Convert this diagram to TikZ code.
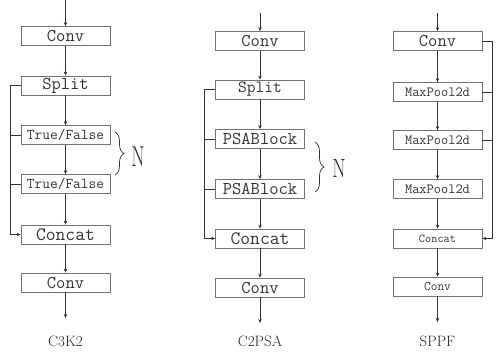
\documentclass[tikz,border=0pt]{standalone}
\usepackage{fontspec}
\usepackage{graphicx}
\usetikzlibrary{arrows.meta,decorations.pathreplacing}
\begin{document}
\begin{tikzpicture}[x=1pt, y=-1pt, >={Stealth[length=4pt,width=3.5pt]},
    blk/.style={draw=black!55, line width=0.8pt, minimum width=89pt, minimum height=19pt,
      inner sep=0pt, text=black!80, font=\ttfamily\fontsize{#1}{#1}\selectfont},
    blk/.default=18,
    flow/.style={->, line width=0.7pt, black!80},
    wire/.style={line width=0.7pt, black!80},
    tag/.style={text=black!85, font=\fontsize{15}{15}\selectfont},
    reps/.style={text=black!85, font=\fontsize{24}{24}\selectfont},
    brc/.style={line width=0.7pt, black!80, decorate, decoration={brace, amplitude=9pt}}]
    \useasboundingbox (0,0) rectangle (498,354);

    % C3K2
    \coordinate (in1) at (65.5,0);
    \coordinate (out1) at (65.5,318);
    \coordinate (bus1) at (10,0);
    \node[blk] (conv1a) at (65.5,36) {Conv};
    \node[blk] (split1) at (65.5,85.5) {Split};
    \node[blk=15] (tf1) at (65.5,135) {True/False};
    \node[blk=15] (tf2) at (65.5,184) {True/False};
    \node[blk=19] (concat1) at (65.5,234.5) {Concat};
    \node[blk] (conv1b) at (65.5,282.5) {Conv};
    \node[tag] (lbl1) at (65.5,341) {C3K2};

    \draw[flow] (in1) -- (conv1a);
    \draw[flow] (conv1a) -- (split1);
    \draw[flow] (split1) -- (tf1);
    \draw[flow] (tf1) -- (tf2);
    \draw[flow] (tf2) -- (concat1);
    \draw[flow] (concat1) -- (conv1b);
    \draw[flow] (conv1b) -- (out1);
    \draw[flow] (split1.west) -- (split1.west -| bus1) |- (concat1.west);
    \draw[wire] (tf1.west) -- (tf1.west -| bus1);
    \draw[wire] (tf2.west) -- (tf2.west -| bus1);

    \draw[brc] (115,132) -- (115,175);
    \node[reps] (n1) at (138,157) {\scalebox{0.8}[1.2]{N}};

    % C2PSA
    \coordinate (in2) at (260,13);
    \coordinate (out2) at (260,323);
    \coordinate (bus2) at (204,0);
    \node[blk] (conv2a) at (260,41) {Conv};
    \node[blk=17] (split2) at (260,89.5) {Split};
    \node[blk] (psa1) at (260,139) {PSABlock};
    \node[blk] (psa2) at (260,189) {PSABlock};
    \node[blk=19] (concat2) at (260,238.5) {Concat};
    \node[blk] (conv2b) at (260,287.5) {Conv};
    \node[tag] (lbl2) at (260,341) {C2PSA};

    \draw[flow] (in2) -- (conv2a);
    \draw[flow] (conv2a) -- (split2);
    \draw[flow] (split2) -- (psa1);
    \draw[flow] (psa1) -- (psa2);
    \draw[flow] (psa2) -- (concat2);
    \draw[flow] (concat2) -- (conv2b);
    \draw[flow] (conv2b) -- (out2);
    \draw[flow] (split2.west) -- (split2.west -| bus2) |- (concat2.west);
    \draw[wire] (psa1.west) -- (psa1.west -| bus2);
    \draw[wire] (psa2.west) -- (psa2.west -| bus2);

    \draw[brc] (315,142) -- (315,192);
    \node[reps] (n2) at (339,168) {\scalebox{0.8}[1.1]{N}};

    % SPPF
    \coordinate (in3) at (437.5,13);
    \coordinate (out3) at (437.5,322);
    \coordinate (bus3) at (492,0);
    \node[blk] (conv3a) at (437.5,41) {Conv};
    \node[blk=14] (mp1) at (437.5,92) {MaxPool2d};
    \node[blk=14] (mp2) at (437.5,140) {MaxPool2d};
    \node[blk=14] (mp3) at (437.5,189) {MaxPool2d};
    \node[blk=12] (concat3) at (437.5,238.5) {Concat};
    \node[blk=13] (conv3b) at (437.5,286.5) {Conv};
    \node[tag] (lbl3) at (437.5,341) {SPPF};

    \draw[flow] (in3) -- (conv3a);
    \draw[flow] (conv3a) -- (mp1);
    \draw[flow] (mp1) -- (mp2);
    \draw[flow] (mp2) -- (mp3);
    \draw[flow] (mp3) -- (concat3);
    \draw[flow] (concat3) -- (conv3b);
    \draw[flow] (conv3b) -- (out3);
    \draw[flow] (conv3a.east) -- (conv3a.east -| bus3) |- (concat3.east);
    \draw[wire] (mp1.east) -- (mp1.east -| bus3);
    \draw[wire] (mp2.east) -- (mp2.east -| bus3);
\end{tikzpicture}
\end{document}
